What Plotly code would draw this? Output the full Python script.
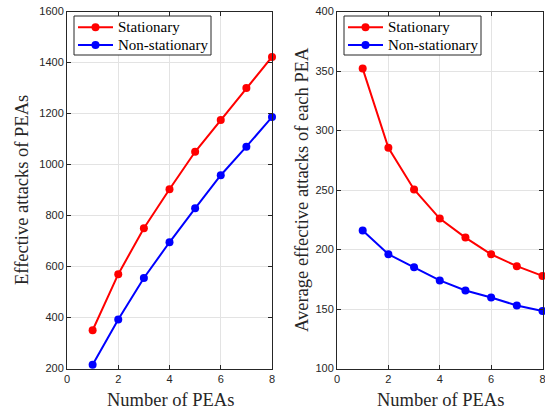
import plotly.graph_objects as go

peas = [1, 2, 3, 4, 5, 6, 7, 8]
total_stationary = [350, 570, 750, 903, 1050, 1175, 1300, 1422]
total_nonstationary = [215, 392, 555, 695, 828, 958, 1070, 1186]
avg_stationary = [352, 285.5, 250.5, 226, 210, 196, 186, 177.8]
avg_nonstationary = [216, 196, 185, 174, 165.6, 159.7, 152.9, 148.3]
series_names = ["Stationary", "Non-stationary"]

RED = "#FF0000"
BLUE = "#0000FF"
AX = "#262626"
GRID = "#e3e3e3"
colors = [RED, BLUE]

fig = go.Figure()

def add(x, y, name, color, xa, ya):
    fig.add_trace(go.Scatter(
        x=x, y=y, name=name, mode="lines+markers",
        line=dict(color=color, width=2),
        marker=dict(color=color, size=8),
        xaxis=xa, yaxis=ya, showlegend=False,
        cliponaxis=False,
    ))

add(peas, total_stationary, series_names[0], RED, "x", "y")
add(peas, total_nonstationary, series_names[1], BLUE, "x", "y")
add(peas, avg_stationary, series_names[0], RED, "x2", "y2")
add(peas, avg_nonstationary, series_names[1], BLUE, "x2", "y2")

W, H = 545, 411
yd = [1 - 368.5 / H, 1 - 11.5 / H]

axis_common = dict(
    showline=True, linecolor=AX, linewidth=1, mirror="allticks",
    ticks="inside", ticklen=4, tickcolor=AX,
    showgrid=True, gridcolor=GRID, gridwidth=1, zeroline=False,
    tickfont=dict(family="Liberation Sans, Arial", size=11, color=AX),
    ticklabeloverflow="allow",
    automargin=False,
)

serif = "Liberation Serif, Times New Roman"

shapes = []
annotations = []

def px(x):
    return x / W

def py(y):
    return 1 - y / H

def legend_box(left, top, width=137, height=39, row_y=(27.3, 45)):
    shapes.append(dict(type="rect", xref="paper", yref="paper",
                       x0=px(left), x1=px(left + width), y0=py(top + height), y1=py(top),
                       line=dict(color=AX, width=1), fillcolor="white", layer="above"))
    for name, color, ry in zip(series_names, colors, row_y):
        shapes.append(dict(type="line", xref="paper", yref="paper",
                           x0=px(left + 4), x1=px(left + 39), y0=py(ry), y1=py(ry),
                           line=dict(color=color, width=2), layer="above"))
        shapes.append(dict(type="circle", xref="paper", yref="paper",
                           x0=px(left + 21.5 - 4), x1=px(left + 21.5 + 4),
                           y0=py(ry + 4), y1=py(ry - 4),
                           line=dict(color=color, width=0), fillcolor=color, layer="above"))
        annotations.append(dict(text=name, x=px(left + 42), y=py(ry), xref="paper", yref="paper",
                                showarrow=False, xanchor="left", yanchor="middle",
                                font=dict(family=serif, size=15, color="black")))

legend_box(74, 16)
legend_box(344, 16)

titles = [
    ("Effective attacks of PEAs", 22, 190, -90),
    ("Average effective attacks of each PEA", 302, 190, -90),
    ("Number of PEAs", 170, 400, 0),
    ("Number of PEAs", 440, 400, 0),
]
for text, x, y, ang in titles:
    annotations.append(dict(text=text, x=px(x), y=py(y), xref="paper", yref="paper",
                            textangle=ang, showarrow=False, xanchor="center", yanchor="middle",
                            font=dict(family=serif, size=18.5, color=AX)))

fig.update_layout(
    width=W, height=H,
    margin=dict(l=0, r=0, t=0, b=0),
    paper_bgcolor="white", plot_bgcolor="white",
    xaxis=dict(domain=[67 / W, 272 / W], range=[0, 8], dtick=2, anchor="y", **axis_common),
    yaxis=dict(domain=yd, range=[200, 1600], dtick=200, anchor="x", **axis_common),
    xaxis2=dict(domain=[337 / W, 542.5 / W], range=[0, 8], dtick=2, anchor="y2", **axis_common),
    yaxis2=dict(domain=yd, range=[100, 400], dtick=50, anchor="x2", **axis_common),
    shapes=shapes,
    annotations=annotations,
)

fig.write_html(
    "out.html",
    config={"displayModeBar": False},
    post_script="document.body.style.margin='0';document.body.style.overflow='hidden';",
)
